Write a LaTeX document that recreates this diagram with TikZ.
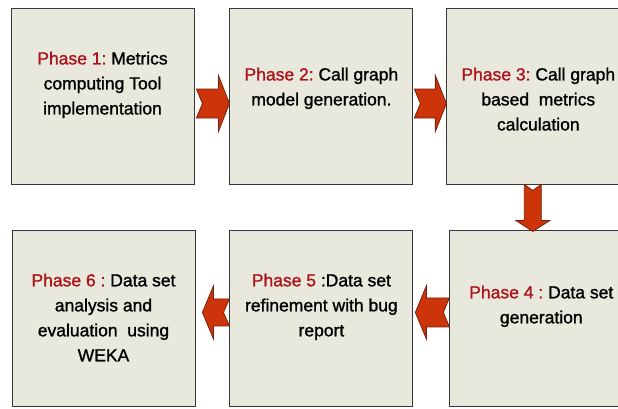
\documentclass[tikz,border=0pt]{standalone}
\usepackage{fontspec}
\setmainfont[FakeBold=1.2]{Liberation Sans}
\usetikzlibrary{positioning, calc}

\definecolor{boxfill}{RGB}{233,232,221}
\definecolor{boxline}{RGB}{55,55,55}
\definecolor{phasered}{RGB}{172,20,28}
\definecolor{arrowfill}{RGB}{205,52,10}
\definecolor{arrowline}{RGB}{120,32,14}

\tikzset{
    phase/.style={draw=boxline, fill=boxfill, line width=0.9pt, minimum width=183pt, minimum height=176pt, inner sep=0pt},
    phasetext/.style={align=center, inner sep=0pt, font=\fontsize{17.5}{25}\selectfont\frenchspacing},
    pics/fatarrow/.style n args={3}{code={
        \filldraw[fill=arrowfill, draw=arrowline, line width=0.8pt]
            (0,#2) -- (#1-11,#2) -- (#1-11,#3) -- (#1,0) -- (#1-11,-#3) -- (#1-11,-#2) -- (0,-#2) -- (6,0) -- cycle;
    }}
}
\newcommand{\ph}[1]{\textcolor{phasered}{#1}}

\begin{document}
\begin{tikzpicture}[x=1pt, y=1pt]
    \useasboundingbox (0,0) rectangle (618,408);
    \clip (0,0) rectangle (618,408);
    \fill[white] (0,0) rectangle (618,408);

    \node[phase] (p1) at (102.5,312) {};
    \node[phase, right=35pt of p1] (p2) {};
    \node[phase, right=33pt of p2] (p3) {};
    \node[phase, below=46pt of p3, xshift=3pt] (p4) {};
    \node[phase, left=36pt of p4] (p5) {};
    \node[phase, left=34pt of p5] (p6) {};

    \node[phasetext, below=44pt of p1.north] (t1) {\ph{Phase 1:} Metrics\\computing Tool\\implementation};
    \node[phasetext, below=60pt of p2.north] (t2) {\ph{Phase 2:} Call graph\\model generation.};
    \node[phasetext, below=60pt of p3.north] (t3) {\ph{Phase 3:} Call graph\\based\ \ metrics\\calculation};
    \node[phasetext, below=55pt of p4.north] (t4) {\ph{Phase 4 :} Data set\\generation};
    \node[phasetext, below=43pt of p5.north] (t5) {\ph{Phase 5} :Data set\\refinement with bug\\report};
    \node[phasetext, below=43pt of p6.north] (t6) {\ph{Phase 6 :} Data set\\analysis and\\evaluation\ \ using\\WEKA};

    \pic at ($(p1.east)+(2,-7.5)$) {fatarrow={33}{14.5}{28}};
    \pic at ($(p2.east)+(1,-7.5)$) {fatarrow={32}{14.5}{28}};
    \pic[rotate=-90] at ($(p3.south)+(-5.5,0)$) {fatarrow={47}{8.5}{17}};
    \pic[rotate=180] at ($(p4.west)+(0,6.5)$) {fatarrow={34}{14.5}{26.5}};
    \pic[rotate=180] at ($(p5.west)+(0,6.5)$) {fatarrow={27}{13.5}{26.5}};
\end{tikzpicture}
\end{document}
